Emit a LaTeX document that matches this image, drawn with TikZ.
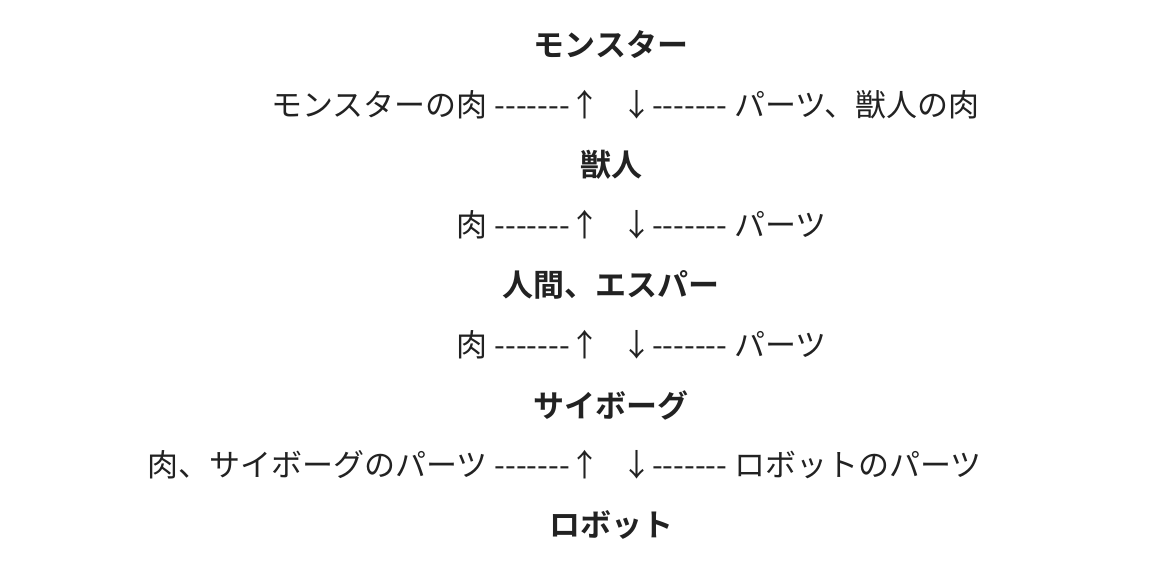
\documentclass[tikz,border=0pt]{standalone}
\usepackage{fontspec}
\setmainfont[Ligatures=ResetAll]{Noto Sans CJK JP}
\newfontfamily\jpb{Noto Sans CJK JP Bold}
\definecolor{ink}{HTML}{222222}
\newcommand\dsh{-\kern0pt-\kern0pt-\kern0pt-\kern0pt-\kern0pt-\kern0pt-}
\begin{document}
\begin{tikzpicture}[x=1pt,y=-1pt,
  ttl/.style={font=\jpb\fontsize{31}{34}\selectfont,text=ink,inner sep=0},
  lft/.style={font=\fontsize{31}{34}\selectfont,text=ink,inner sep=0,anchor=east},
  rgt/.style={font=\fontsize{31}{34}\selectfont,text=ink,inner sep=0,anchor=west}]
\useasboundingbox (0,0) rectangle (1170,560);
\node[ttl] (t1) at (611,45) {モンスター};
\node[lft] (l1) at (601,105) {モンスターの肉 \dsh↑};
\node[rgt] (r1) at (621,105) {↓\dsh{} パーツ、獣人の肉};
\node[ttl] (t2) at (611,165) {獣人};
\node[lft] (l2) at (601,225) {肉 \dsh↑};
\node[rgt] (r2) at (621,225) {↓\dsh{} パーツ};
\node[ttl] (t3) at (611,285) {人間、エスパー};
\node[lft] (l3) at (601,345) {肉 \dsh↑};
\node[rgt] (r3) at (621,345) {↓\dsh{} パーツ};
\node[ttl] (t4) at (611,405) {サイボーグ};
\node[lft] (l4) at (601,465) {肉、サイボーグのパーツ \dsh↑};
\node[rgt] (r4) at (621,465) {↓\dsh{} ロボットのパーツ};
\node[ttl] (t5) at (611,525) {ロボット};
\end{tikzpicture}
\end{document}
